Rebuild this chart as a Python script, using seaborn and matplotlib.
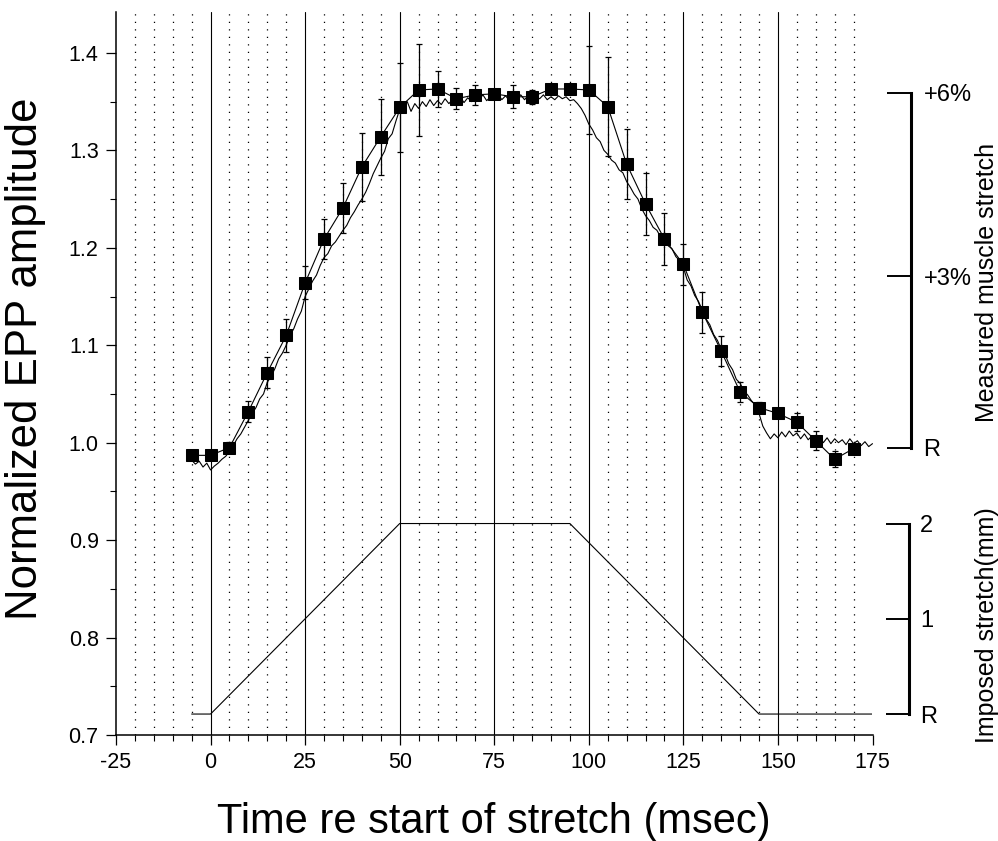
import numpy as np
import pandas as pd
import matplotlib
matplotlib.use("Agg")
import matplotlib.pyplot as plt
import seaborn as sns
from matplotlib.ticker import MultipleLocator, FixedLocator, FormatStrFormatter

# ---------------- data ----------------
# averaged EPP amplitude (squares) with error bars
mean_t = [-5, 0, 5, 10, 15, 20, 25, 30, 35, 40, 45, 50, 55, 60, 65, 70, 75, 80,
          85, 90, 95, 100, 105, 110, 115, 120, 125, 130, 135, 140, 145, 150, 155,
          160, 165, 170]
mean_v = [0.987, 0.987, 0.995, 1.032, 1.072, 1.110, 1.164, 1.209, 1.241, 1.283,
          1.314, 1.344, 1.362, 1.363, 1.353, 1.357, 1.358, 1.355, 1.355, 1.363,
          1.363, 1.362, 1.345, 1.286, 1.245, 1.209, 1.183, 1.134, 1.094, 1.052,
          1.036, 1.030, 1.021, 1.002, 0.983, 0.994]
mean_err = [0.003, 0.004, 0.006, 0.011, 0.016, 0.017, 0.017, 0.021, 0.026, 0.035,
            0.039, 0.046, 0.047, 0.018, 0.011, 0.010, 0.003, 0.012, 0.007, 0.003,
            0.003, 0.045, 0.051, 0.036, 0.032, 0.027, 0.021, 0.021, 0.015, 0.010,
            0.006, 0.003, 0.009, 0.010, 0.008, 0.003]

# measured muscle stretch trace (1 ms samples, -5 .. 175 ms), read in EPP-axis units
trace_t = list(range(-5, 176))
trace_v = [0.982, 0.978, 0.981, 0.975, 0.979, 0.972,
           0.976, 0.979, 0.983, 0.986, 0.991, 0.997, 1.004, 1.009, 1.016, 1.023,
           1.030, 1.036, 1.045, 1.050, 1.062, 1.068, 1.076, 1.086, 1.092, 1.100,
           1.110, 1.117, 1.127, 1.135, 1.150, 1.158, 1.166, 1.172, 1.182, 1.190,
           1.194, 1.202, 1.206, 1.212, 1.218, 1.223, 1.231, 1.237, 1.244, 1.250,
           1.257, 1.266, 1.276, 1.284, 1.292, 1.299, 1.312, 1.317, 1.330, 1.342,
           1.346, 1.350, 1.340, 1.348, 1.343, 1.350, 1.345, 1.352, 1.346, 1.351,
           1.347, 1.353, 1.348, 1.352, 1.350, 1.355, 1.349, 1.354, 1.350, 1.356,
           1.352, 1.357, 1.351, 1.355, 1.353, 1.358, 1.352, 1.356, 1.351, 1.355,
           1.353, 1.357, 1.352, 1.356, 1.351, 1.355, 1.353, 1.357, 1.352, 1.355,
           1.352, 1.356, 1.353, 1.355, 1.351, 1.352, 1.348, 1.343, 1.336, 1.327,
           1.321, 1.313, 1.309, 1.300, 1.296, 1.290, 1.287, 1.280, 1.277, 1.268,
           1.262, 1.255, 1.250, 1.240, 1.233, 1.228, 1.221, 1.218, 1.211, 1.208,
           1.202, 1.199, 1.191, 1.187, 1.180, 1.167, 1.161, 1.151, 1.145, 1.136,
           1.127, 1.121, 1.111, 1.105, 1.096, 1.091, 1.081, 1.075, 1.065, 1.061,
           1.053, 1.049, 1.043, 1.039, 1.030, 1.017, 1.010, 1.004, 1.009, 1.005,
           1.011, 1.006, 1.012, 1.007, 1.010, 1.004, 1.009, 1.003, 1.007, 1.002,
           1.006, 1.000, 1.005, 0.999, 1.004, 1.000, 1.003, 0.998, 1.004, 0.999,
           1.002, 0.997, 1.001, 0.996, 0.999]

# imposed stretch ramp (mm)
ramp_t = [-5, 0, 50, 95, 145, 175]
ramp_mm = [0, 0, 2, 2, 0, 0]

# scale annotations
meas_scale_pos = [0.995, 1.171, 1.359]          # in EPP-axis units
meas_scale_labels = ["R", "+3%", "+6%"]
imp_scale_pos = [0, 1, 2]                        # mm
imp_scale_labels = ["R", "1", "2"]

x_major = list(range(-25, 176, 25))
x_grid_solid = list(range(0, 151, 25))
x_grid_dotted = [v for v in range(-20, 171, 5) if v % 25 != 0]

# ---------------- style ----------------
sns.set_style("ticks")
plt.rcParams["font.family"] = ["Liberation Sans", "DejaVu Sans"]
plt.rcParams["axes.unicode_minus"] = False
for k in ["axes.edgecolor", "text.color", "xtick.color", "ytick.color", "axes.labelcolor"]:
    plt.rcParams[k] = "black"

fig = plt.figure(figsize=(9.98, 8.41), dpi=100)
L, R_, B, T = 116 / 998, 872.5 / 998, 1 - 735 / 841, 1 - 12 / 841
ax = fig.add_axes([L, B, R_ - L, T - B])
ax.set_facecolor("white")

# grid
for xv in x_grid_dotted:
    ax.axvline(xv, color="black", lw=0.9, ls=(0, (1, 5)), zorder=0)
for xv in x_grid_solid:
    ax.axvline(xv, color="black", lw=0.8, zorder=0.5)

# measured stretch trace
sns.lineplot(x=trace_t, y=trace_v, ax=ax, color="black", lw=0.8,
             estimator=None, sort=False, zorder=2)
# mean EPP with error bars
ax.errorbar(mean_t, mean_v, yerr=mean_err, fmt="none", ecolor="black",
            elinewidth=0.9, capsize=2.5, capthick=0.9, zorder=3)
sns.lineplot(x=mean_t, y=mean_v, ax=ax, color="black", lw=0.8, marker="s",
             markersize=9, markeredgecolor="black", markerfacecolor="black",
             estimator=None, sort=False, zorder=4)

ax.set_xlim(-25, 175)
ax.set_ylim(0.7, 1.442)
ax.xaxis.set_major_locator(FixedLocator(x_major))
ax.xaxis.set_minor_locator(MultipleLocator(5))
ax.yaxis.set_major_locator(MultipleLocator(0.1))
ax.yaxis.set_minor_locator(MultipleLocator(0.05))
ax.yaxis.set_major_formatter(FormatStrFormatter("%.1f"))
ax.tick_params(which="major", direction="out", length=7.5, width=0.9, labelsize=15.5, pad=5)
ax.tick_params(which="minor", direction="out", length=4, width=0.8)
for s in ["top", "right"]:
    ax.spines[s].set_visible(False)
for s in ["left", "bottom"]:
    ax.spines[s].set_linewidth(1.1)

ax.set_xlabel("Time re start of stretch (msec)", fontsize=30)
ax.xaxis.set_label_coords(0.5, -0.092)
ax.set_ylabel("Normalized EPP amplitude", fontsize=31.5)
ax.yaxis.set_label_coords(-0.092, 0.52)

# imposed stretch (mm) twin axis
ax_imp = ax.twinx()
ax_imp.set_ylim(-0.22, 7.37)
sns.lineplot(x=ramp_t, y=ramp_mm, ax=ax_imp, color="black", lw=0.8)
ax_imp.set_xlim(-25, 175)
for s in ["top", "left", "bottom"]:
    ax_imp.spines[s].set_visible(False)
ax_imp.spines["right"].set_position(("axes", (909 - 116) / 756.5))
ax_imp.spines["right"].set_bounds(0, 2)
ax_imp.spines["right"].set_linewidth(2.2)
ax_imp.yaxis.set_major_locator(FixedLocator(imp_scale_pos))
ax_imp.set_yticklabels(imp_scale_labels)
ax_imp.tick_params(axis="y", direction="in", length=16.5, width=1.4, pad=8, labelsize=17)
ax_imp.set_ylabel("Imposed stretch(mm)", fontsize=18)
ax_imp.yaxis.set_label_coords((975 - 116) / 756.5, (735 - 625) / 723)

# measured muscle stretch scale
ax_meas = ax.twinx()
ax_meas.set_ylim(0.7, 1.442)
for s in ["top", "left", "bottom"]:
    ax_meas.spines[s].set_visible(False)
ax_meas.spines["right"].set_position(("axes", (911 - 116) / 756.5))
ax_meas.spines["right"].set_bounds(meas_scale_pos[0], meas_scale_pos[-1])
ax_meas.spines["right"].set_linewidth(2.2)
ax_meas.yaxis.set_major_locator(FixedLocator(meas_scale_pos))
ax_meas.set_yticklabels(meas_scale_labels)
ax_meas.tick_params(axis="y", direction="in", length=17.5, width=1.4, pad=9, labelsize=17)
ax_meas.set_ylabel("Measured muscle stretch", fontsize=18)
ax_meas.yaxis.set_label_coords((975 - 116) / 756.5, (735 - 282) / 723)

fig.savefig("out.png", dpi=100, facecolor="white")
